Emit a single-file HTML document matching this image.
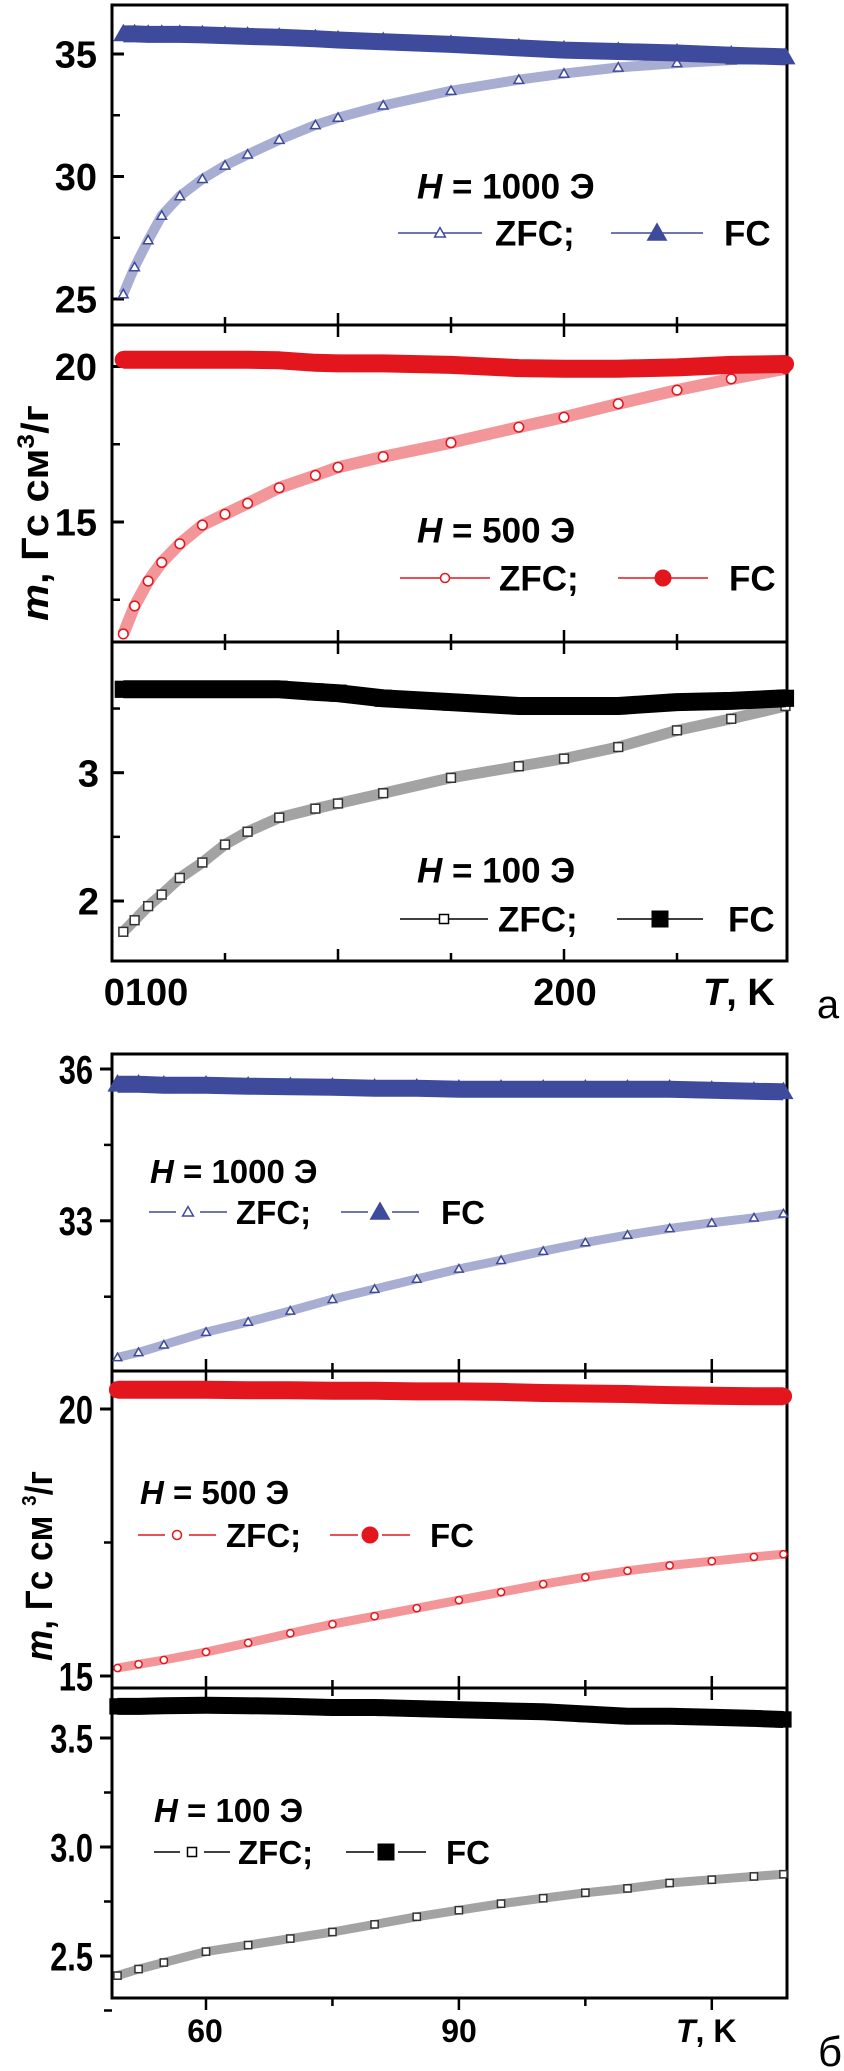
<!DOCTYPE html>
<html><head><meta charset="utf-8"><style>
html,body{margin:0;padding:0;background:#fff;}
svg{display:block;}
text{font-family:"Liberation Sans",Arial,sans-serif;font-weight:bold;fill:#000;}
</style></head><body>
<svg id="chart" width="844" height="2071" viewBox="0 0 844 2071" xmlns="http://www.w3.org/2000/svg">
<g id="axes"></g>
<g id="marks"></g>
<g id="labels">
  <text transform="translate(48,513) rotate(-90)" text-anchor="middle" font-size="38" textLength="216" lengthAdjust="spacingAndGlyphs"><tspan font-style="italic">m</tspan>, Гс см<tspan font-size="24" dy="-14">3</tspan><tspan dy="14">/г</tspan></text>
  <text x="146" y="1005" text-anchor="middle" font-size="38">0100</text>
  <text x="565" y="1005" text-anchor="middle" font-size="38">200</text>
  <text x="703" y="1005" font-size="38"><tspan font-style="italic">T</tspan>, K</text>
  <text x="828" y="1018" text-anchor="middle" font-size="40" style="font-weight:normal">а</text>
  <text transform="translate(52,1566) rotate(-90)" text-anchor="middle" font-size="38" textLength="190" lengthAdjust="spacingAndGlyphs"><tspan font-style="italic">m</tspan>, Гс см <tspan font-size="20" dy="-16">3</tspan><tspan dy="16">/г</tspan></text>
  <text x="205" y="2042" text-anchor="middle" font-size="32">60</text>
  <text x="459" y="2042" text-anchor="middle" font-size="32">90</text>
  <text x="676" y="2042" font-size="32"><tspan font-style="italic">T</tspan>, K</text>
  <text x="830" y="2066" text-anchor="middle" font-size="42" style="font-weight:normal">б</text>
</g>
</svg>
<script>
// ---- data: figure a ----
var tA = [102.5,105,108,111,115,120,125,130,137,145,150,160,175,190,200,212,225,237,249];
var a1ZFC = [25.2,26.3,27.4,28.4,29.2,29.9,30.45,30.9,31.5,32.1,32.4,32.9,33.5,33.95,34.2,34.45,34.63,34.75,34.8];
var a1FC = [35.82,35.82,35.8,35.8,35.8,35.78,35.75,35.72,35.68,35.62,35.57,35.5,35.39,35.25,35.16,35.1,35.04,34.95,34.88];
var a2ZFC = [11.4,12.3,13.1,13.7,14.3,14.9,15.25,15.6,16.1,16.5,16.76,17.1,17.55,18.05,18.37,18.8,19.24,19.6,19.93];
var a2FC = [20.22,20.22,20.22,20.22,20.22,20.22,20.22,20.22,20.2,20.12,20.1,20.1,20.05,19.95,19.93,19.93,19.97,20.05,20.08];
var a3ZFC = [1.76,1.85,1.96,2.05,2.18,2.3,2.44,2.54,2.65,2.72,2.76,2.84,2.96,3.05,3.11,3.2,3.33,3.42,3.52];
var a3FC = [3.65,3.65,3.65,3.65,3.65,3.65,3.65,3.65,3.65,3.63,3.62,3.58,3.55,3.52,3.52,3.52,3.55,3.56,3.58];
// ---- data: figure b ----
var tB = [49.5,52,55,60,65,70,75,80,85,90,95,100,105,110,115,120,125,128.5];
var b1ZFC = [30.3,30.4,30.55,30.8,31.0,31.22,31.45,31.65,31.85,32.05,32.22,32.4,32.57,32.72,32.85,32.96,33.06,33.14];
var b1FC = [35.7,35.7,35.68,35.68,35.66,35.65,35.64,35.62,35.62,35.6,35.6,35.6,35.6,35.6,35.6,35.58,35.56,35.55];
var b2ZFC = [15.15,15.22,15.3,15.45,15.62,15.8,15.97,16.12,16.27,16.42,16.57,16.72,16.85,16.97,17.07,17.15,17.23,17.28];
var b2FC = [20.36,20.36,20.36,20.36,20.35,20.35,20.34,20.34,20.33,20.33,20.32,20.3,20.29,20.28,20.26,20.25,20.24,20.24];
var b3ZFC = [2.41,2.44,2.47,2.52,2.55,2.58,2.61,2.645,2.68,2.71,2.74,2.765,2.79,2.81,2.835,2.85,2.865,2.875];
var b3FC = [3.645,3.645,3.648,3.65,3.648,3.645,3.64,3.64,3.635,3.63,3.625,3.62,3.61,3.6,3.6,3.595,3.59,3.585];
// tick values
var yTicksA1 = ["25","30","35"], yTicksA2 = ["15","20"], yTicksA3 = ["2","3"];
var yTicksB1 = ["33","36"], yTicksB2 = ["15","20"], yTicksB3 = ["2.5","3.0","3.5"];
var xMajorA = [100,150,200,250], xMinorA = [125,175,225];
var xMajorB = [60,90,120], xMinorB = [75,105];
var fieldLabels = ["1000","500","100"];

var NS = "http://www.w3.org/2000/svg";
var axes = document.getElementById('axes'), marks = document.getElementById('marks'), labels = document.getElementById('labels');
function mk(tag, attrs, parent){var e=document.createElementNS(NS,tag);for(var k in attrs)e.setAttribute(k,attrs[k]);parent.appendChild(e);return e;}

var BLUE="#3E4A9C", RED="#E3161E", BLK="#000";
var L=112, R=787;
function xA(t){return L+(t-100)*4.52;}
function xB(t){return L+(t-48.85)*8.43;}
var pA=[{y0:54,v0:35,s:24.5,top:5,bot:325},{y0:366.5,v0:20,s:31.1,top:325,bot:642},{y0:772.7,v0:3,s:128.3,top:642,bot:961}];
var pB=[{y0:1069,v0:36,s:50.6,top:1054,bot:1371},{y0:1409,v0:20,s:53.4,top:1371,bot:1688},{y0:1738,v0:3.5,s:218,top:1688,bot:1998}];
function yOf(p,v){return p.y0+(p.v0-v)*p.s;}

function frame(ps,name){
  var f=mk('rect',{x:L,y:ps[0].top,width:R-L,height:ps[2].bot-ps[0].top,fill:'none',stroke:'#000','stroke-width':3},axes);
  
  
  for(var i=0;i<2;i++){
    var s=mk('line',{x1:L,x2:R,y1:ps[i].bot,y2:ps[i].bot,stroke:'#000','stroke-width':3},axes);
    
    
  }
}
function yTicks(p,vals,minors,outward,fs,xEnd,squeeze,name){
  vals.forEach(function(v){
    var y=yOf(p,parseFloat(v));
    var t=mk('line',{x1:outward?L-12:L,x2:outward?L:L+12,y1:y,y2:y,stroke:'#000','stroke-width':3},axes);
    
    
    var tx=mk('text',{x:xEnd,y:y+fs*0.36,'text-anchor':'end','font-size':fs},labels);
    tx.textContent=v;
    
    
    if(squeeze<1){
      var w=tx.getComputedTextLength();
      tx.setAttribute('textLength',(w*squeeze).toFixed(1));
      tx.setAttribute('lengthAdjust','spacingAndGlyphs');
    }
  });
  minors.forEach(function(v){
    var y=yOf(p,v);
    var t=mk('line',{x1:outward?L-8:L,x2:outward?L:L+8,y1:y,y2:y,stroke:'#000','stroke-width':2.5},axes);
    
    
  });
}
function xTicks(ps,xf,maj,minr,lastOut,name){
  ps.forEach(function(p,i){
    maj.concat(minr).forEach(function(t){
      var x=xf(t); if(x<=L+2||x>=R-2) return;
      var len=maj.indexOf(t)>=0?12:8;
      var out=(i==2&&lastOut);
      var l=mk('line',{x1:x,x2:x,y1:p.bot,y2:out?p.bot+len:p.bot-len,stroke:'#000','stroke-width':2.5},axes);
      
      
      if(i>0){
        var l2=mk('line',{x1:x,x2:x,y1:p.top,y2:p.top+len,stroke:'#000','stroke-width':2.5},axes);
        
        
      }
    });
  });
}
function marker(kind,x,y,size,color,filled,parent){
  var e;
  if(kind=='tri'){var h=size;e=mk('polygon',{points:(x)+','+(y-h*0.6)+' '+(x-h*0.6)+','+(y+h*0.45)+' '+(x+h*0.6)+','+(y+h*0.45)},parent);}
  else if(kind=='circ'){e=mk('circle',{cx:x,cy:y,r:size/2},parent);}
  else {e=mk('rect',{x:x-size/2,y:y-size/2,width:size,height:size},parent);}
  e.setAttribute('fill',filled?color:'#fff');
  e.setAttribute('stroke',color);
  e.setAttribute('stroke-width',filled?1:1.5);
  return e;
}
function series(ts,vals,xf,p,kind,color,filled,band,name){
  var d='';
  ts.forEach(function(t,i){d+=(i?'L':'M')+xf(t).toFixed(1)+','+yOf(p,vals[i]).toFixed(1);});
  var path=mk('path',{d:d,fill:'none',stroke:color,'stroke-width':band,'stroke-linejoin':'round','stroke-opacity':filled?1:0.45},marks);
  
  
  ts.forEach(function(t,i){
    var m=marker(kind,xf(t),yOf(p,vals[i]),filled?band*0.9:band*0.8,color,filled,marks);
    
    
  });
}
function legend(x0,ty,ry,fs,field,kind,color,pos,gap,name){
  var t=mk('text',{x:x0,y:ty+fs*0.36,'font-size':fs},labels);
  t.innerHTML='<tspan font-style="italic">H</tspan> = '+field+' Э';
  
  
  [[pos[0],pos[1],pos[2],false,'ZFC;'],[pos[3],pos[4],pos[5],true,'FC']].forEach(function(e){
    if(gap){
      mk('line',{x1:e[0],x2:e[1]-12,y1:ry,y2:ry,stroke:color,'stroke-width':1.5},labels);
      mk('line',{x1:e[1]+12,x2:e[1]+(e[1]-e[0]),y1:ry,y2:ry,stroke:color,'stroke-width':1.5},labels);
    } else {
      mk('line',{x1:e[0],x2:e[1]+(e[1]-e[0]),y1:ry,y2:ry,stroke:color,'stroke-width':1.5},labels);
    }
    var m=marker(kind,e[1],ry,e[3]?16:9,color,e[3],labels);
    
    
    var tx=mk('text',{x:e[2],y:ry+fs*0.36,'font-size':fs},labels);
    tx.textContent=e[4];
    
    
  });
}

// figure a
frame(pA,'fig-a');
yTicks(pA[0],yTicksA1,[27.5,32.5],false,38,97,1,'fig-a-1000');
yTicks(pA[1],yTicksA2,[12.5,17.5],false,38,97,1,'fig-a-500');
yTicks(pA[2],yTicksA3,[2.5,3.5],false,38,99,1,'fig-a-100');
xTicks(pA,xA,xMajorA,xMinorA,false,'fig-a');
series(tA,a1ZFC,xA,pA[0],'tri',BLUE,false,10,'a-1000-zfc');
series(tA,a1FC,xA,pA[0],'tri',BLUE,true,17,'a-1000-fc');
series(tA,a2ZFC,xA,pA[1],'circ',RED,false,12,'a-500-zfc');
series(tA,a2FC,xA,pA[1],'circ',RED,true,18,'a-500-fc');
series(tA,a3ZFC,xA,pA[2],'sq',"#333",false,11,'a-100-zfc');
series(tA,a3FC,xA,pA[2],'sq',BLK,true,18,'a-100-fc');
legend(417,186,233,35,fieldLabels[0],'tri',BLUE,[398,440,495,611,657,724],false,'a-1000');
legend(417,530,578,35,fieldLabels[1],'circ',RED,[400,445,499,618,663,729],false,'a-500');
legend(417,870,919,35,fieldLabels[2],'sq',BLK,[400,444,498,617,660,728],false,'a-100');

// figure b
frame(pB,'fig-b');
yTicks(pB[0],yTicksB1,[31.5,34.5],true,40,93,0.77,'fig-b-1000');
yTicks(pB[1],yTicksB2,[17.5],true,40,93,0.77,'fig-b-500');
yTicks(pB[2],yTicksB3,[2.25,2.75,3.25],true,40,93,0.77,'fig-b-100');
xTicks(pB,xB,xMajorB,xMinorB,true,'fig-b');
series(tB,b1ZFC,xB,pB[0],'tri',BLUE,false,9,'b-1000-zfc');
series(tB,b1FC,xB,pB[0],'tri',BLUE,true,17,'b-1000-fc');
series(tB,b2ZFC,xB,pB[1],'circ',RED,false,9,'b-500-zfc');
series(tB,b2FC,xB,pB[1],'circ',RED,true,18,'b-500-fc');
series(tB,b3ZFC,xB,pB[2],'sq',"#333",false,9,'b-100-zfc');
series(tB,b3FC,xB,pB[2],'sq',BLK,true,17,'b-100-fc');
legend(150,1171,1212,33,fieldLabels[0],'tri',BLUE,[149,188,236,341,380,441],true,'b-1000');
legend(140,1492,1535,33,fieldLabels[1],'circ',RED,[138,177,226,330,370,430],true,'b-500');
legend(154,1810,1852,33,fieldLabels[2],'sq',BLK,[154,192,238,346,386,446],true,'b-100');
</script>
</body></html>
